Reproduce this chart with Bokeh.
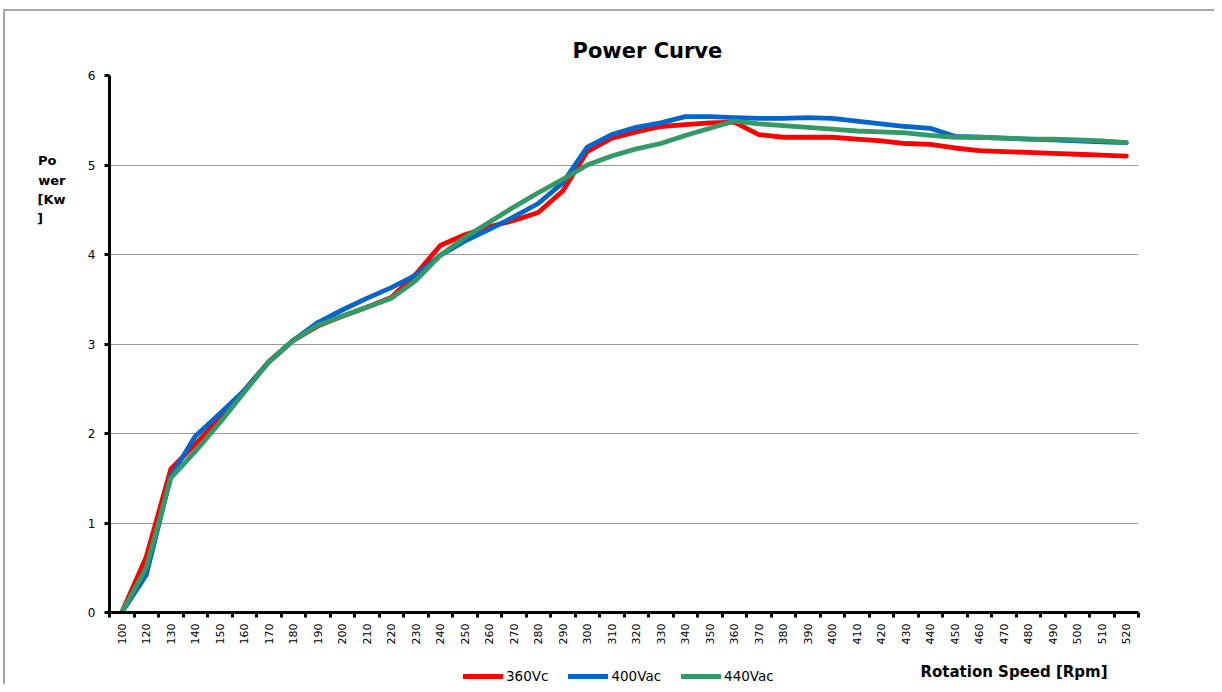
import math
from bokeh.plotting import figure
from bokeh.layouts import column
from bokeh.models import Range1d, FixedTicker, Legend, LegendItem, LinearAxis, Label
from bokeh.embed import file_html
from bokeh.resources import INLINE

# ---- data ----
categories = ["100", "120", "130", "140", "150", "160", "170", "180", "190", "200",
              "210", "220", "230", "240", "250", "260", "270", "280", "290", "300",
              "310", "320", "330", "340", "350", "360", "370", "380", "390", "400",
              "410", "420", "430", "440", "450", "460", "470", "480", "490", "500",
              "510", "520"]

power_360 = [0.0, 0.62, 1.60, 1.88, 2.17, 2.48, 2.80, 3.04, 3.20, 3.31,
             3.41, 3.52, 3.78, 4.10, 4.22, 4.31, 4.38, 4.47, 4.71, 5.15,
             5.30, 5.37, 5.43, 5.45, 5.47, 5.48, 5.34, 5.31, 5.31, 5.31,
             5.29, 5.27, 5.24, 5.23, 5.19, 5.16, 5.15, 5.14, 5.13, 5.12,
             5.11, 5.10]

power_400 = [0.0, 0.42, 1.52, 1.97, 2.22, 2.48, 2.80, 3.04, 3.24, 3.38,
             3.51, 3.63, 3.77, 3.99, 4.15, 4.28, 4.42, 4.57, 4.80, 5.20,
             5.34, 5.42, 5.47, 5.54, 5.54, 5.53, 5.52, 5.52, 5.53, 5.52,
             5.49, 5.46, 5.43, 5.41, 5.32, 5.31, 5.30, 5.29, 5.28, 5.27,
             5.26, 5.25]

power_440 = [0.0, 0.50, 1.50, 1.80, 2.12, 2.46, 2.80, 3.04, 3.21, 3.31,
             3.41, 3.51, 3.71, 3.99, 4.19, 4.36, 4.53, 4.69, 4.84, 5.00,
             5.10, 5.18, 5.24, 5.33, 5.41, 5.49, 5.46, 5.44, 5.42, 5.40,
             5.38, 5.37, 5.36, 5.33, 5.31, 5.31, 5.30, 5.29, 5.29, 5.28,
             5.27, 5.25]

series_names = ["360Vc", "400Vac", "440Vac"]
series_colors = ["#FF0000", "#0066CC", "#339966"]
series_values = [power_360, power_400, power_440]
y_ticks = [0, 1, 2, 3, 4, 5, 6]
y_title_lines = ["Po\u00a0\u00a0", "wer", "[Kw", "]\u00a0\u00a0\u00a0\u00a0\u00a0"]
y_title_pos = [5.05, 4.83, 4.61, 4.40]
x_title = "Rotation Speed [Rpm]"

x_pos = list(range(len(categories)))
x_range = Range1d(-0.5, len(categories) - 0.5)

BORDER_V = "linear-gradient(#a6a6a6, #a6a6a6)"
LINE_W = 4.8

# ---------------- main chart ----------------
p = figure(width=1214, height=647, output_backend="svg", toolbar_location=None,
           x_range=x_range, y_range=Range1d(0, 6),
           min_border_left=109, min_border_right=76, min_border_top=75, min_border_bottom=35)
p.styles = {
    "background-color": "white",
    "background-image": BORDER_V + ", " + BORDER_V,
    "background-size": "2px 100%, 100% 2px",
    "background-position": "3px 10px, 3px 9px",
    "background-repeat": "no-repeat",
}
p.outline_line_color = None
p.background_fill_color = "white"
p.border_fill_color = None

# title
p.title.text = "Power Curve"
p.title.align = "left"
p.title.offset = 463
p.title.vertical_align = "bottom"
p.title.standoff = 26
p.title.text_font = "DejaVu Sans"
p.title.text_font_style = "bold"
p.title.text_font_size = "21px"
p.title.text_color = "black"

# grid
p.xgrid.visible = False
p.ygrid.ticker = FixedTicker(ticks=y_ticks)
p.ygrid.grid_line_color = "#999999"
p.ygrid.grid_line_width = 1

# y axis
p.yaxis.ticker = FixedTicker(ticks=y_ticks)
p.yaxis.axis_line_width = 3
p.yaxis.axis_line_color = "black"
p.yaxis.major_tick_line_width = 3
p.yaxis.major_tick_line_color = "black"
p.yaxis.major_tick_out = 5
p.yaxis.major_tick_in = 0
p.yaxis.minor_tick_line_color = None
p.yaxis.major_label_text_font = "DejaVu Sans"
p.yaxis.major_label_text_font_size = "12px"
p.yaxis.major_label_text_color = "black"
p.yaxis.major_label_standoff = 9

# y axis title, near the top as in the original (label-only axis)
y_title_axis = LinearAxis(ticker=FixedTicker(ticks=y_title_pos),
                          major_label_overrides={v: t for v, t in zip(y_title_pos, y_title_lines)})
y_title_axis.axis_line_color = None
y_title_axis.major_tick_line_color = None
y_title_axis.minor_tick_line_color = None
y_title_axis.major_tick_out = 0
y_title_axis.major_tick_in = 0
y_title_axis.major_label_standoff = 19
y_title_axis.major_label_text_font = "DejaVu Sans"
y_title_axis.major_label_text_font_style = "bold"
y_title_axis.major_label_text_font_size = "13px"
y_title_axis.major_label_text_color = "black"
p.add_layout(y_title_axis, "left")

# x axis (category labels between tick marks)
p.xaxis.ticker = FixedTicker(ticks=x_pos, minor_ticks=[i - 0.5 for i in range(len(categories) + 1)])
p.xaxis.major_label_overrides = {i: c for i, c in enumerate(categories)}
p.xaxis.axis_line_width = 3
p.xaxis.axis_line_color = "black"
p.xaxis.major_tick_line_color = None
p.xaxis.major_tick_out = 5
p.xaxis.major_tick_in = 0
p.xaxis.minor_tick_line_color = "black"
p.xaxis.minor_tick_line_width = 3
p.xaxis.minor_tick_out = 5
p.xaxis.minor_tick_in = 0
p.xaxis.major_label_orientation = math.pi / 2
p.xaxis.major_label_text_font = "DejaVu Sans"
p.xaxis.major_label_text_font_size = "11px"
p.xaxis.major_label_text_color = "black"
p.xaxis.major_label_standoff = 6

for vals, col in zip(series_values, series_colors):
    p.line(x_pos, vals, line_color=col, line_width=LINE_W, line_join="round", line_cap="round")

# ---------------- bottom strip: legend + x axis title ----------------
p2 = figure(width=1214, height=37, output_backend="svg", toolbar_location=None,
            x_range=x_range, y_range=Range1d(0, 37),
            x_axis_location=None, y_axis_location=None,
            min_border_left=109, min_border_right=76, min_border_top=0, min_border_bottom=0)
p2.styles = {
    "background-color": "white",
    "background-image": BORDER_V,
    "background-size": "2px 100%",
    "background-position": "3px 0px",
    "background-repeat": "no-repeat",
}
p2.outline_line_color = None
p2.background_fill_color = None
p2.border_fill_color = None
p2.xgrid.visible = False
p2.ygrid.visible = False
# the series are repeated here on a range that keeps them out of view; they only feed the legend
p2.extra_y_ranges = {"offstage": Range1d(100, 200)}

legend_renderers = [p2.line(x_pos, vals, y_range_name="offstage", line_color=col,
                            line_width=LINE_W, line_cap="round")
                    for vals, col in zip(series_values, series_colors)]
legend = Legend(items=[LegendItem(label=n, renderers=[r]) for n, r in zip(series_names, legend_renderers)],
                orientation="horizontal", location=(354, 0))
legend.glyph_width = 40
legend.glyph_height = 16
legend.label_height = 16
legend.label_standoff = 3
legend.spacing = 20
legend.padding = 0
legend.margin = 0
legend.border_line_color = None
legend.background_fill_alpha = 0
legend.label_text_font = "DejaVu Sans"
legend.label_text_font_size = "13.5px"
legend.label_text_color = "black"
p2.add_layout(legend, "center")

p2.add_layout(Label(x=32.6, y=13, text=x_title, text_align="left", text_baseline="alphabetic",
                    text_font="DejaVu Sans", text_font_style="bold", text_font_size="15px",
                    text_color="black"))

layout = column(p, p2, spacing=0)
open("out.html", "w").write(file_html(layout, INLINE))
